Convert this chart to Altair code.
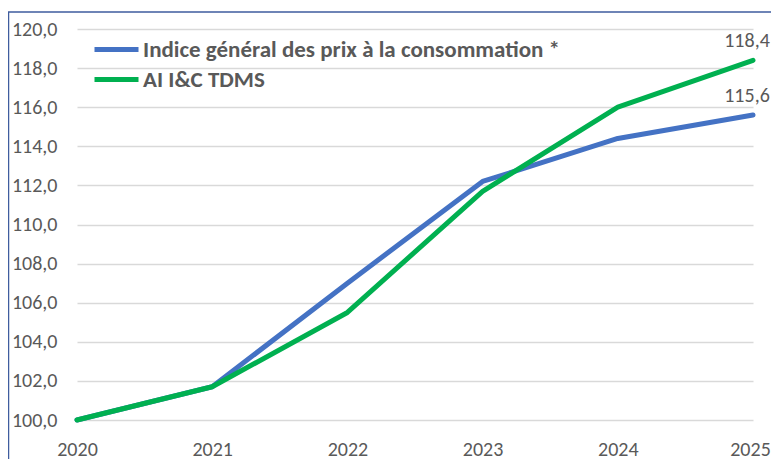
import altair as alt
import pandas as pd

years = [2020, 2021, 2022, 2023, 2024, 2025]
ipc = [100.0, 101.7, 107.0, 112.2, 114.4, 115.6]
ai = [100.0, 101.7, 105.5, 111.7, 116.0, 118.4]
series_names = ["Indice général des prix à la consommation *", "AI I&C TDMS"]
colors = ["#4472C4", "#00B050"]
y_ticks = [100, 102, 104, 106, 108, 110, 112, 114, 116, 118, 120]

rows = []
for name, vals in zip(series_names, [ipc, ai]):
    for yr, v in zip(years, vals):
        rows.append({"annee": yr, "valeur": v, "serie": name})
df = pd.DataFrame(rows)

FONT = "Carlito, Lato, Open Sans"
GRAY = "#595959"

x = alt.X("annee:Q", scale=alt.Scale(domain=[2020, 2025], nice=False, zero=False),
          axis=alt.Axis(title=None, values=years, format="d", grid=False, domain=False,
                        ticks=False, labelPadding=19, labelFontSize=20, labelColor=GRAY,
                        labelFont=FONT, labelFlush=False, labelOverlap=False,
                        labelOffset={"expr": "datum.value == 2025 ? -3 : 0"}))
y = alt.Y("valeur:Q", scale=alt.Scale(domain=[100, 120], nice=False, zero=False),
          axis=alt.Axis(title=None, values=y_ticks, domain=False, ticks=False,
                        labelPadding=20, labelFontSize=20, labelColor=GRAY, labelFont=FONT,
                        labelOverlap=False, tickCount=11,
                        labelExpr="replace(format(datum.value, '.1f'), '.', ',')",
                        gridColor="#D9D9D9", gridWidth=1.3))
color = alt.Color("serie:N", scale=alt.Scale(domain=series_names, range=colors),
                  legend=alt.Legend(title=None, orient="none", legendX=28, legendY=9,
                                    symbolType="M-4,0H4", symbolSize=121,
                                    symbolStrokeWidth=5, labelOffset=15,
                                    labelFont=FONT, labelFontSize=23, labelFontWeight="bold",
                                    labelColor=GRAY, rowPadding=6, padding=0,
                                    labelLimit=700))

frame = alt.Chart(alt.Data(values=[{}])).mark_rect(
    fill=None, stroke="#3F5C9E", strokeWidth=1.5
).encode(x=alt.value(-68.5), y=alt.value(-17), x2=alt.value(900), y2=alt.value(600))

lines = alt.Chart(df).mark_line(strokeWidth=5, strokeJoin="round", strokeCap="round").encode(
    x=x, y=y, color=color, order="annee:Q"
)

labels = alt.Chart(df).transform_filter(alt.datum.annee == 2025).transform_calculate(
    lab="replace(format(datum.valeur, '.1f'), '.', ',')"
).mark_text(font=FONT, fontSize=20, color=GRAY, dx=-6, dy=-19, align="center").encode(
    x=x, y=y, text="lab:N"
)

chart = alt.layer(frame, lines, labels).properties(
    width=676, height=391,
    autosize=alt.AutoSizeParams(type="none"),
    padding={"left": 69, "top": 21, "right": 18, "bottom": 39},
).configure_view(stroke=None)

chart.save("out.html", embed_options={"renderer": "svg", "actions": False})
